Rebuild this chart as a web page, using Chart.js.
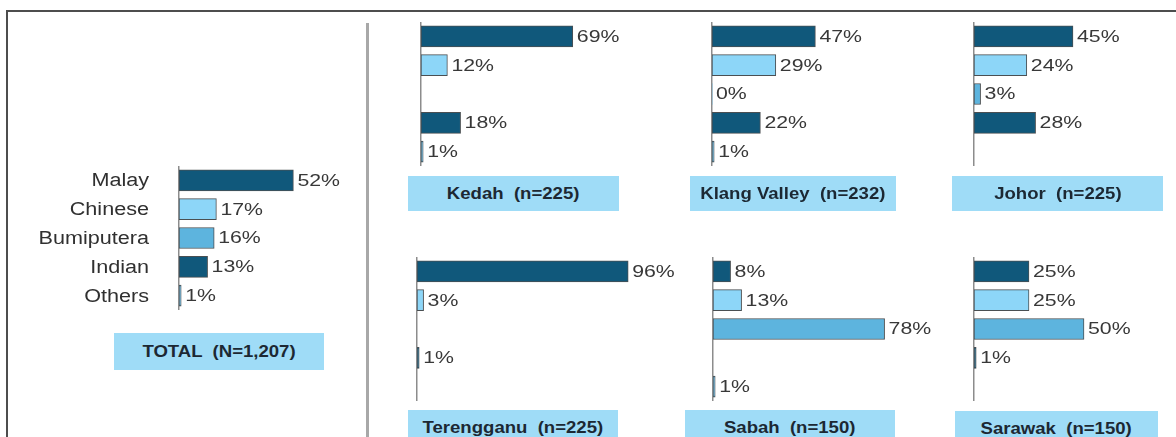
<!DOCTYPE html>
<html>
<head>
<meta charset="utf-8">
<script src="https://cdn.jsdelivr.net/npm/chart.js@4.4.1/dist/chart.umd.min.js"></script>
<style>
  html, body { margin:0; padding:0; background:#fff; overflow:hidden; }
  body { width:1176px; height:437px; position:relative; font-family:"Liberation Sans", Arial, sans-serif; }
  .frame { position:absolute; left:6px; top:10px; width:1200px; height:460px;
           border-top:2px solid #4d4d4d; border-left:2px solid #4d4d4d; box-sizing:border-box; }
  .divider { position:absolute; left:366px; top:23px; width:3px; height:420px; background:#a8a8a8; }
  .cv { position:absolute; }
  .box { position:absolute; background:#9fdcf7; display:flex; align-items:center; justify-content:center; }
  .box span { display:inline-block; white-space:pre; font-weight:bold; font-size:16px; color:#1c2833;
              transform:scaleX(1.16); }
</style>
</head>
<body>
<div class="frame"></div>
<div class="divider"></div>

<canvas id="cTotal" class="cv" width="440" height="144" style="left:9px;top:166px"></canvas>
<canvas id="cKedah" class="cv" width="280" height="144" style="left:411px;top:22px"></canvas>
<canvas id="cKlang" class="cv" width="280" height="144" style="left:702px;top:22px"></canvas>
<canvas id="cJohor" class="cv" width="280" height="144" style="left:964px;top:22px"></canvas>
<canvas id="cTer" class="cv" width="280" height="144" style="left:407px;top:257px"></canvas>
<canvas id="cSabah" class="cv" width="280" height="144" style="left:703px;top:257px"></canvas>
<canvas id="cSarawak" class="cv" width="280" height="144" style="left:964px;top:257px"></canvas>

<div class="box" id="bTotal" style="left:114px;top:333px;width:210px;height:37px"><span></span></div>
<div class="box" id="bKedah" style="left:408px;top:176px;width:211px;height:35px"><span></span></div>
<div class="box" id="bKlang" style="left:690px;top:176px;width:206px;height:35px"><span></span></div>
<div class="box" id="bJohor" style="left:952px;top:176px;width:211px;height:35px"><span></span></div>
<div class="box" id="bTer" style="left:408px;top:410px;width:210px;height:35px"><span></span></div>
<div class="box" id="bSabah" style="left:685px;top:410px;width:210px;height:35px"><span></span></div>
<div class="box" id="bSarawak" style="left:955px;top:411px;width:203px;height:35px"><span></span></div>

<script>
// ---------------- DATA ----------------
const categories = ['Malay', 'Chinese', 'Bumiputera', 'Indian', 'Others'];

const totalValues      = [52, 17, 16, 13, 1];
const kedahValues      = [69, 12, null, 18, 1];
const klangValues      = [47, 29, 0, 22, 1];
const johorValues      = [45, 24, 3, 28, null];
const terengganuValues = [96, 3, null, 1, null];
const sabahValues      = [8, 13, 78, null, 1];
const sarawakValues    = [25, 25, 50, 1, null];

const panelTitles = {
  total: 'TOTAL  (N=1,207)',
  kedah: 'Kedah  (n=225)',
  klang: 'Klang Valley  (n=232)',
  johor: 'Johor  (n=225)',
  terengganu: 'Terengganu  (n=225)',
  sabah: 'Sabah  (n=150)',
  sarawak: 'Sarawak  (n=150)'
};

// ---------------- STYLE ----------------
const NAVY = '#10587b', LIGHT = '#8dd6f8', MEDIUM = '#5db4de';
const categoryColors = [NAVY, LIGHT, MEDIUM, NAVY, MEDIUM];
const FONT = '"Liberation Sans", Arial, sans-serif';

function drawStretched(ctx, text, x, y, align, font, color, sx) {
  ctx.save();
  ctx.font = font;
  ctx.fillStyle = color;
  ctx.textAlign = align;
  ctx.textBaseline = 'middle';
  ctx.translate(x, y);
  ctx.scale(sx, 1);
  ctx.fillText(text, 0, 0);
  ctx.restore();
}

const labelPlugin = {
  id: 'labelPlugin',
  afterDatasetsDraw(chart, args, opts) {
    const ctx = chart.ctx;
    const ds = chart.data.datasets[0];
    const xs = chart.scales.x, ys = chart.scales.y;
    ds.data.forEach((v, i) => {
      if (v === null || v === undefined) return;
      const y = ys.getPixelForValue(i);
      const x = xs.getPixelForValue(v) + 4;
      drawStretched(ctx, v + '%', x, y + 1, 'left', '16px ' + FONT, '#383838', 1.33);
    });
    if (opts.showCategories) {
      chart.data.labels.forEach((lab, i) => {
        const y = ys.getPixelForValue(i);
        drawStretched(ctx, lab, chart.chartArea.left - 30, y + 1, 'right', '18px ' + FONT, '#303030', 1.2);
      });
    }
  }
};

function makeChart(id, values, axisWidth, showCategories) {
  new Chart(document.getElementById(id), {
    type: 'bar',
    data: {
      labels: categories,
      datasets: [{
        data: values,
        backgroundColor: categoryColors,
        borderColor: '#4a4f52',
        borderWidth: (c) => (c.raw ? 1 : 0),
        borderSkipped: false,
        barThickness: 21
      }]
    },
    options: {
      indexAxis: 'y',
      responsive: false,
      animation: false,
      devicePixelRatio: 1,
      layout: { padding: { left: 0, right: 50, top: 0, bottom: 0 } },
      plugins: { legend: { display: false }, tooltip: { enabled: false },
                 labelPlugin: { showCategories: showCategories } },
      scales: {
        x: { display: false, min: 0, max: 100 },
        y: {
          grid: { display: false, drawTicks: false },
          border: { display: true, color: '#8c8c8c', width: 1.5 },
          ticks: { display: false },
          afterFit: (s) => { s.width = axisWidth; }
        }
      }
    },
    plugins: [labelPlugin]
  });
}

makeChart('cTotal', totalValues, 170, true);
makeChart('cKedah', kedahValues, 10, false);
makeChart('cKlang', klangValues, 10, false);
makeChart('cJohor', johorValues, 10, false);
makeChart('cTer', terengganuValues, 10, false);
makeChart('cSabah', sabahValues, 10, false);
makeChart('cSarawak', sarawakValues, 10, false);

const boxes = { bTotal: 'total', bKedah: 'kedah', bKlang: 'klang', bJohor: 'johor',
                bTer: 'terengganu', bSabah: 'sabah', bSarawak: 'sarawak' };
Object.keys(boxes).forEach(id => {
  document.querySelector('#' + id + ' span').textContent = panelTitles[boxes[id]];
});
</script>
</body>
</html>
